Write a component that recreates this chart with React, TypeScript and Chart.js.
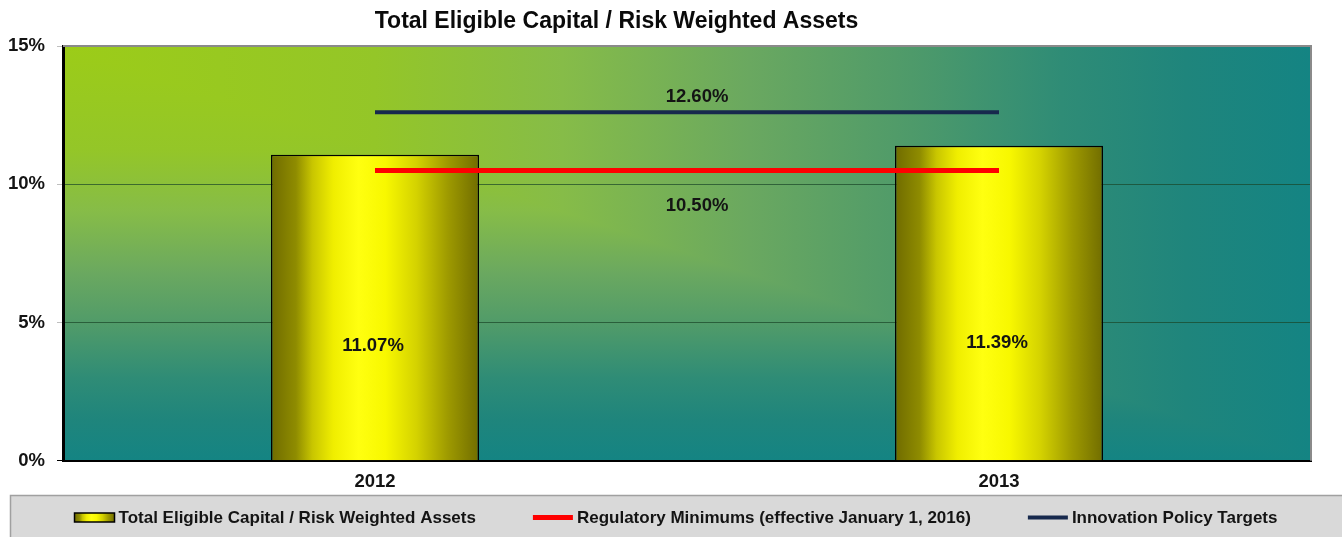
import { useEffect, useRef } from 'react';
import { Chart, registerables } from 'chart.js';

Chart.register(...registerables);

const FONT = '"Liberation Sans", Arial, Helvetica, sans-serif';

const chartTitle = 'Total Eligible Capital / Risk Weighted Assets';
const categories = ['2012', '2013'];
const capitalRatio = [11.07, 11.39];
const regulatoryMinimum = [10.5, 10.5];
const policyTarget = [12.6, 12.6];
const seriesLabels = [
  'Total Eligible Capital / Risk Weighted Assets',
  'Regulatory Minimums (effective January 1, 2016)',
  'Innovation Policy Targets',
];
const yTicks = [0, 5, 10, 15];

const BAR_FRACTION = 1 / 3;

function barGradient(ctx: CanvasRenderingContext2D, x0: number, x1: number) {
  const g = ctx.createLinearGradient(x0, 0, x1, 0);
  g.addColorStop(0, '#6f6b00');
  g.addColorStop(0.12, '#8f8c00');
  g.addColorStop(0.2, '#c9c600');
  g.addColorStop(0.3, '#f0ee00');
  g.addColorStop(0.42, '#ffff10');
  g.addColorStop(0.55, '#f8f800');
  g.addColorStop(0.7, '#d4d200');
  g.addColorStop(0.85, '#9e9a00');
  g.addColorStop(1, '#716d00');
  return g;
}

const bgStops: [number, string][] = [
  [0, '#9ccc18'],
  [0.25, '#94c628'],
  [0.4, '#86bc48'],
  [0.55, '#6aa860'],
  [0.68, '#4e9a6a'],
  [0.8, '#2f8c76'],
  [0.9, '#1f857c'],
  [1, '#148483'],
];

const backgroundPlugin = {
  id: 'cornerBackground',
  beforeDraw(chart: any) {
    const { ctx, chartArea: a } = chart;
    if (!a) return;
    const { left, top, right, bottom } = a;
    ctx.save();
    // whole area: vertical gradient (lower-left half)
    const gv = ctx.createLinearGradient(0, top, 0, bottom);
    bgStops.forEach(([s, c]) => gv.addColorStop(s, c));
    ctx.fillStyle = gv;
    ctx.fillRect(left, top, right - left, bottom - top);
    // upper-right triangle: horizontal gradient
    ctx.beginPath();
    ctx.moveTo(left, top);
    ctx.lineTo(right, top);
    ctx.lineTo(right, bottom);
    ctx.closePath();
    const gh = ctx.createLinearGradient(left, 0, right, 0);
    bgStops.forEach(([s, c]) => gh.addColorStop(s, c));
    ctx.fillStyle = gh;
    ctx.fill();
    ctx.restore();
  },
};

const titleShiftPlugin = {
  id: 'titleShift',
  afterLayout(chart: any) {
    const t = chart.titleBlock;
    if (t) {
      t.left = 0;
      t.right = 1233;
      t.width = 1233;
    }
  },
};

const annotatePlugin = {
  id: 'annotate',
  afterDatasetsDraw(chart: any) {
    const { ctx, chartArea: a } = chart;
    const y = chart.scales.y;
    ctx.save();
    // frame top/right
    ctx.strokeStyle = '#8a8a8a';
    ctx.lineWidth = 2;
    ctx.beginPath();
    ctx.moveTo(a.left, a.top);
    ctx.lineTo(a.right, a.top);
    ctx.lineTo(a.right, a.bottom);
    ctx.stroke();

    ctx.font = 'bold 18.5px ' + FONT;
    ctx.fillStyle = '#141414';
    ctx.textAlign = 'center';
    ctx.textBaseline = 'middle';

    // bar labels
    const barMeta = chart.getDatasetMeta(0);
    barMeta.data.forEach((el: any, i: number) => {
      const v = capitalRatio[i];
      ctx.fillText(v.toFixed(2) + '%', el.x - 2, y.getPixelForValue(v * 0.375));
    });

    // line labels
    [1, 2].forEach((di) => {
      const meta = chart.getDatasetMeta(di);
      const pts = meta.data;
      if (!pts.length) return;
      const v = chart.data.datasets[di].data[0] as number;
      const mx = (pts[0].x + pts[pts.length - 1].x) / 2 + 10;
      const ly = di === 2 ? pts[0].y - 15 : pts[0].y + 35;
      ctx.fillText(v.toFixed(2) + '%', mx, ly);
    });
    ctx.restore();
  },
};

const legendPlugin = {
  id: 'boxLegend',
  afterDraw(chart: any) {
    const { ctx } = chart;
    const W = chart.width;
    const top = chart.height - 42;
    ctx.save();
    ctx.fillStyle = '#d9d9d9';
    ctx.fillRect(10, top, W - 10, 60);
    ctx.strokeStyle = '#a0a0a0';
    ctx.lineWidth = 1.5;
    ctx.strokeRect(10.5, top + 0.5, W + 10, 60);

    ctx.font = 'bold 17px ' + FONT;
    ctx.textAlign = 'left';
    ctx.textBaseline = 'middle';
    const sw = 40;
    const gapText = 4;
    const gapItem = 57;
    const ds = chart.data.datasets;
    const widths = ds.map((d: any) => sw + gapText + ctx.measureText(d.label).width);
    const total = widths.reduce((s: number, w: number) => s + w, 0) + gapItem * (ds.length - 1);
    let x = (10 + W) / 2 - total / 2;
    const cy = top + 22.5;
    ds.forEach((d: any, i: number) => {
      if (d.type === 'line') {
        ctx.fillStyle = d.borderColor;
        const h = d.borderWidth;
        ctx.fillRect(x, cy - h / 2, sw, h);
      } else {
        ctx.fillStyle = barGradient(ctx, x, x + sw);
        ctx.fillRect(x, cy - 4.5, sw, 9);
        ctx.strokeStyle = '#000';
        ctx.lineWidth = 1.5;
        ctx.strokeRect(x, cy - 4.5, sw, 9);
      }
      ctx.fillStyle = '#141414';
      ctx.fillText(d.label, x + sw + gapText, cy + 1);
      x += widths[i] + gapItem;
    });
    ctx.restore();
  },
};

export default function App() {
  const ref = useRef<HTMLCanvasElement>(null);

  useEffect(() => {
    Chart.defaults.font.family = FONT;
    const chart = new Chart(ref.current as HTMLCanvasElement, {
      type: 'bar',
      data: {
        labels: categories,
        datasets: [
          {
            type: 'bar',
            label: seriesLabels[0],
            data: capitalRatio,
            order: 2,
            backgroundColor: (c: any) => {
              const chart = c.chart;
              const xs = chart.scales?.x;
              if (!xs || c.dataIndex === undefined || !chart.chartArea) return '#e8e800';
              const cx = xs.getPixelForValue(c.dataIndex);
              const half = ((xs.width / categories.length) * BAR_FRACTION) / 2;
              return barGradient(chart.ctx, cx - half, cx + half);
            },
            borderColor: '#000',
            borderWidth: 1.5,
            categoryPercentage: 1,
            barPercentage: BAR_FRACTION,
          } as any,
          {
            type: 'line',
            label: seriesLabels[1],
            data: regulatoryMinimum,
            order: 1,
            borderColor: '#ff0000',
            borderWidth: 5,
            pointRadius: 0,
            borderCapStyle: 'butt',
            fill: false,
          } as any,
          {
            type: 'line',
            label: seriesLabels[2],
            data: policyTarget,
            order: 0,
            borderColor: '#17294d',
            borderWidth: 4,
            pointRadius: 0,
            borderCapStyle: 'butt',
            fill: false,
          } as any,
        ],
      },
      options: {
        responsive: true,
        maintainAspectRatio: false,
        animation: false,
        layout: { padding: { left: 8, right: 31, top: 0, bottom: 34 } },
        plugins: {
          legend: { display: false },
          tooltip: { enabled: false },
          title: {
            display: true,
            text: chartTitle,
            color: '#0a0a0a',
            font: { size: 23, weight: 'bold', family: FONT },
            padding: { top: 8, bottom: 10.4 },
          },
        },
        scales: {
          x: {
            offset: true,
            grid: { display: false, drawTicks: false },
            border: { display: true, color: '#000', width: 2 },
            ticks: {
              padding: 10,
              color: '#141414',
              font: { size: 18.5, weight: 'bold', family: FONT },
            },
          },
          y: {
            min: 0,
            max: 15,
            afterBuildTicks: (axis: any) => {
              axis.ticks = yTicks.map((v) => ({ value: v }));
            },
            afterFit: (axis: any) => {
              axis.width = 55;
            },
            ticks: {
              padding: 12,
              color: '#141414',
              font: { size: 18.5, weight: 'bold', family: FONT },
              callback: (v: any) => v + '%',
            },
            grid: {
              tickLength: 6,
              color: (c: any) => {
                const v = c.tick?.value;
                if (v === 15) return '#8a8a8a';
                if (v === 0) return '#000';
                return 'rgba(25,70,40,0.7)';
              },
              tickColor: (c: any) => (c.tick?.value === 0 ? '#000' : 'rgba(0,0,0,0.25)'),
              lineWidth: 1,
            },
            border: { display: true, color: '#000', width: 3 },
          },
        },
      },
      plugins: [backgroundPlugin, titleShiftPlugin, annotatePlugin, legendPlugin],
    } as any);
    return () => chart.destroy();
  }, []);

  return (
    <div style={{ position: 'absolute', left: 0, top: 0, width: 1342, height: 537, background: '#fff' }}>
      <canvas ref={ref} />
    </div>
  );
}
